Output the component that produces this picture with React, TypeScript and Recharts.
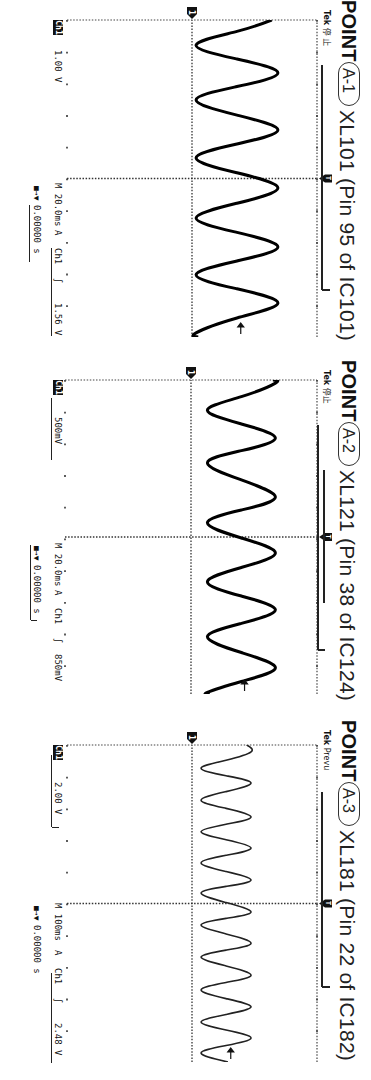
import React from 'react';
import { LineChart, Line, XAxis, YAxis, CartesianGrid, ReferenceLine, ReferenceDot } from 'recharts';

// ---- Panel A-1 (Ch1 1.00 V/div, M 20.0 ms/div) ----
const a1TimeMs = [0, 7.2, 15.8, 24.6, 33.4, 42.0, 50.4, 60.0, 69.4, 78.2, 87.0, 96.4, 106.0, 115.6, 125.0, 134.0, 143.2, 152.0, 160.8, 169.6, 178.6, 188.0, 197.4, 200];
const a1Volts = [2.55, 1.44, 0.13, 1.44, 2.75, 1.44, 0.13, 1.44, 2.75, 1.44, 0.13, 1.44, 2.75, 1.44, 0.13, 1.44, 2.75, 1.44, 0.13, 1.44, 2.75, 1.44, 0.13, 0.2];

// ---- Panel A-2 (Ch1 500 mV/div, M 20.0 ms/div) ----
const a2TimeMs = [0, 2.0, 10.6, 19.2, 28.0, 37.0, 45.0, 52.8, 63.6, 74.6, 82.8, 91.0, 100.6, 110.2, 119.4, 128.6, 137.6, 146.4, 155.0, 163.6, 173.6, 183.4, 192.0, 199.0, 200];
const a2Volts = [1.30, 1.34, 0.80, 0.26, 0.80, 1.34, 0.80, 0.26, 0.80, 1.34, 0.80, 0.26, 0.80, 1.34, 0.80, 0.26, 0.80, 1.34, 0.80, 0.26, 0.80, 1.34, 0.80, 0.26, 0.30];

// ---- Panel A-3 (Ch1 2.00 V/div, M 100 ms/div) ----
const a3TimeMs = [0, 22, 48, 73, 97, 120, 147, 174, 200, 227, 250, 274, 299, 325, 348, 372, 399, 426, 446, 467, 497, 527, 547, 568, 596, 625, 647, 669, 697, 726, 749, 773, 800, 826, 850, 874, 899, 924, 948, 972, 1000];
const a3Volts = [3.5, 3.78, 2.18, 0.58, 2.18, 3.78, 2.18, 0.58, 2.18, 3.78, 2.18, 0.58, 2.18, 3.78, 2.18, 0.58, 2.18, 3.78, 2.18, 0.58, 2.18, 3.78, 2.18, 0.58, 2.18, 3.78, 2.18, 0.58, 2.18, 3.78, 2.18, 0.58, 2.18, 3.78, 2.18, 0.58, 2.18, 3.78, 2.18, 0.58, 2.3];

// ---- Labels ----
const pointIds = ['A-1', 'A-2', 'A-3'];
const partNames = ['XL101 (Pin 95 of IC101)', 'XL121 (Pin 38 of IC124)', 'XL181 (Pin 22 of IC182)'];
const tekStates = ['停 止', '停止', 'Prevu'];
const voltsPerDiv = [1, 0.5, 2];
const voltLabels = ['1.00 V', '500mV', '2.00 V'];
const msPerDiv = [20, 20, 100];
const timeLabels = ['20.0ms', '20.0ms', '100ms'];
const trigLevels = [1.56, 0.85, 2.48];
const trigLabels = ['1.56 V', '850mV', '2.48 V'];
const delayLabels = ['0.00000 s', '0.00000 s', '0.00000 s'];
const divisionsX = [0, 1, 2, 3, 4, 5, 6, 7, 8, 9, 10];
const divisionsY = [-4, -3, -2, -1, 0, 1, 2, 3, 4];

const seriesTimes = [a1TimeMs, a2TimeMs, a3TimeMs];
const seriesVolts = [a1Volts, a2Volts, a3Volts];

const SANS = '"Liberation Sans", Arial, sans-serif';
const MONO = '"DejaVu Sans Mono", "Liberation Mono", monospace';

function Txt({ x, base, size, children, family = SANS, weight = 400, ls = 0, color = '#111' }: any) {
  const top = base - 0.846 * size;
  return (
    <div style={{ position: 'absolute', left: x, top, fontSize: size, lineHeight: `${size}px`, fontFamily: family, fontWeight: weight, letterSpacing: ls, color, whiteSpace: 'nowrap' }}>
      {children}
    </div>
  );
}

function HLine({ x1, x2, y, w = 1, color = '#222' }: any) {
  return <div style={{ position: 'absolute', left: x1, top: y - w / 2, width: x2 - x1, height: w, background: color }} />;
}
function VLine({ x, y1, y2, w = 1, color = '#222' }: any) {
  return <div style={{ position: 'absolute', left: x - w / 2, top: y1, width: w, height: y2 - y1, background: color }} />;
}

const GroundMarker = (p: any) => {
  const { cx, cy } = p;
  return (
    <g>
      <path d={`M${cx - 13},${cy - 5} h7 l5,5 l-5,5 h-7 z`} fill="#111" />
      <text x={cx - 10} y={cy + 3} fontSize={8} fill="#fff" fontFamily={MONO} fontWeight={700}>1</text>
    </g>
  );
};

const TrigPosMarker = (p: any) => {
  const { cx, cy } = p;
  return (
    <g>
      <rect x={cx - 4} y={cy - 15} width={8} height={7} fill="#111" />
      <path d={`M${cx - 4},${cy - 8} h8 l-4,6 z`} fill="#111" />
      <text x={cx - 2.5} y={cy - 9} fontSize={7} fill="#fff" fontFamily={MONO} fontWeight={700}>T</text>
    </g>
  );
};

const TrigLevelArrow = (p: any) => {
  const { cx, cy } = p;
  return (
    <g stroke="#111" strokeWidth={1.2} fill="#111">
      <line x1={cx - 3} y1={cy} x2={cx - 12} y2={cy} />
      <path d={`M${cx - 14},${cy} l4,-3 v6 z`} />
    </g>
  );
};

function Scope({ idx, margin, stroke, strokeWidth }: any) {
  const vdiv = voltsPerDiv[idx];
  const tdiv = msPerDiv[idx];
  const data = seriesTimes[idx].map((t, i) => ({ t, v: seriesVolts[idx][i] }));
  const xTicks = divisionsX.map((d) => d * tdiv);
  const yTicks = divisionsY.map((d) => d * vdiv);
  const xMax = 10 * tdiv;
  const yMax = 4 * vdiv;
  return (
    <LineChart width={360} height={371} data={data} margin={margin}>
      <CartesianGrid stroke="#333" strokeWidth={1.6} strokeDasharray="1.8 29.9" vertical={false} />
      <XAxis type="number" dataKey="t" domain={[0, xMax]} ticks={xTicks} tick={false} tickLine={false}
        axisLine={{ stroke: '#8c8c8c', strokeWidth: 3 }} height={0} allowDataOverflow />
      <YAxis type="number" dataKey="v" domain={[-yMax, yMax]} ticks={yTicks} orientation="right" tick={false} tickLine={false}
        axisLine={{ stroke: '#111', strokeWidth: 2 }} width={0} allowDataOverflow />
      <ReferenceLine x={0} stroke="#444" strokeWidth={1.2} strokeDasharray="1.5 1.6" />
      <ReferenceLine y={yMax} stroke="#444" strokeWidth={1.2} strokeDasharray="1.5 1.6" />
      <ReferenceLine x={5 * tdiv} stroke="#333" strokeWidth={1.3} strokeDasharray="1.5 1.6" />
      <ReferenceLine y={0} stroke="#333" strokeWidth={1.3} strokeDasharray="1.5 1.6" />
      <Line dataKey="v" type="natural" stroke={stroke} strokeWidth={strokeWidth} dot={false} isAnimationActive={false} />
      <ReferenceDot x={0} y={0} r={0} ifOverflow="visible" shape={GroundMarker} />
      <ReferenceDot x={5 * tdiv} y={yMax} r={0} ifOverflow="visible" shape={TrigPosMarker} />
      <ReferenceDot x={xMax} y={trigLevels[idx]} r={0} ifOverflow="visible" shape={TrigLevelArrow} />
    </LineChart>
  );
}

function Panel({ idx, left, margin, stroke, strokeWidth, deco }: any) {
  const pl = margin.left;
  return (
    <div style={{ position: 'absolute', left, top: 0, width: 360, height: 371 }}>
      <div style={{ position: 'absolute', left: 0, top: 0 }}>
        <Scope idx={idx} margin={margin} stroke={stroke} strokeWidth={strokeWidth} />
      </div>
      {/* title */}
      <Txt x={0} base={28.5} size={20} weight={700} ls={0.1}>POINT</Txt>
      <div style={{ position: 'absolute', left: 62, top: 11, width: 44, height: 22, border: '1.2px solid #333', borderRadius: 11, boxSizing: 'border-box' }} />
      <Txt x={68} base={29} size={16} color="#222">{pointIds[idx]}</Txt>
      <Txt x={110} base={31} size={21} ls={0.25} color="#222">{partNames[idx]}</Txt>
      {/* Tek header */}
      <div style={{ position: 'absolute', left: 10, top: 40, fontSize: 8, lineHeight: '9px', fontFamily: '"DejaVu Sans", "Noto Sans CJK SC", sans-serif', color: '#111', whiteSpace: 'nowrap' }}>
        <b>Tek</b> {tekStates[idx]}
      </div>
      {deco}
      {/* bottom row 1 */}
      <div style={{ position: 'absolute', left: pl, top: 308, width: 15, height: 10, background: '#111', color: '#fff', fontSize: 8, lineHeight: '10px', fontFamily: MONO, fontWeight: 700, textAlign: 'center' }}>Ch1</div>
      <Txt x={pl + (idx === 0 ? 30 : 37)} base={317} size={9} family={MONO}>{voltLabels[idx]}</Txt>
      <Txt x={183} base={317} size={9} family={MONO}>{'M ' + timeLabels[idx]}</Txt>
      <Txt x={230} base={317} size={9} family={MONO}>A</Txt>
      <Txt x={248} base={317} size={9} family={MONO}>Ch1</Txt>
      <Txt x={278} base={317} size={9} family={MONO}>∫</Txt>
      <Txt x={idx === 1 ? 294 : 303} base={317} size={9} family={MONO}>{trigLabels[idx]}</Txt>
      {/* bottom row 2 */}
      <Txt x={186} base={338} size={8} family={MONO}>■→▼</Txt>
      <Txt x={205} base={338} size={9} family={MONO}>{delayLabels[idx]}</Txt>
    </div>
  );
}

export default function App() {
  const deco1 = (
    <>
      <HLine x1={65} x2={290} y={49} w={1.5} />
      <VLine x={290} y1={41} y2={49} w={1.5} />
      <HLine x1={248} x2={336} y={319} w={1} />
      <HLine x1={205} x2={262} y={341} w={1} />
    </>
  );
  const deco2 = (
    <>
      <HLine x1={65} x2={290} y={53} w={1.5} />
      <HLine x1={110} x2={243} y={47} w={1.2} />
      <VLine x={290} y1={46} y2={53} w={1.5} />
      <HLine x1={38} x2={100} y={319} w={1} />
      <HLine x1={185} x2={260} y={340} w={1} />
      <VLine x={260} y1={334} y2={340} w={1} />
    </>
  );
  const deco3 = (
    <>
      <HLine x1={72} x2={267} y={49} w={1.5} />
      <VLine x={267} y1={41} y2={49} w={1.5} />
      <HLine x1={35} x2={107} y={319} w={1} />
      <VLine x={107} y1={312} y2={319} w={1} />
      <HLine x1={253} x2={343} y={319} w={1} />
    </>
  );
  return (
    <div style={{ position: 'absolute', left: 0, top: 0, width: 371, height: 1080, overflow: 'hidden', background: '#fff' }}>
      <div style={{ position: 'absolute', left: 0, top: 0, width: 1080, height: 371, transformOrigin: '0 0', transform: 'translateX(371px) rotate(90deg)' }}>
        <Panel idx={0} left={0} margin={{ top: 54, right: 23, bottom: 67, left: 20 }} stroke="#000" strokeWidth={3} deco={deco1} />
        <Panel idx={1} left={360} margin={{ top: 54, right: 26, bottom: 65, left: 20 }} stroke="#000" strokeWidth={3} deco={deco2} />
        <Panel idx={2} left={720} margin={{ top: 54, right: 18, bottom: 67, left: 25 }} stroke="#222" strokeWidth={1.6} deco={deco3} />
      </div>
    </div>
  );
}
